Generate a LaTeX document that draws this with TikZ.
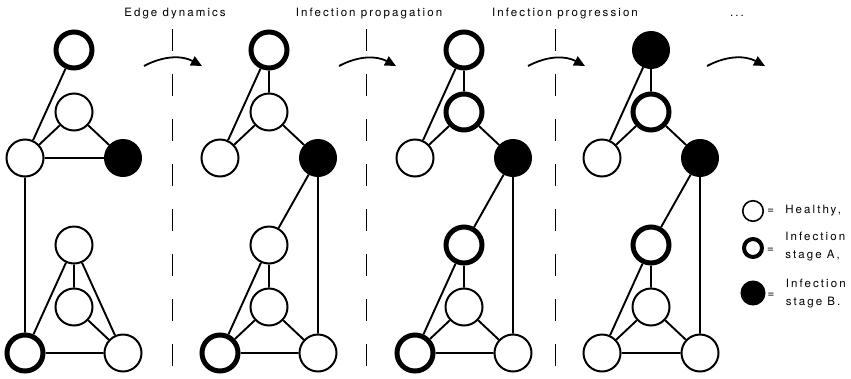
\documentclass[tikz,border=0pt]{standalone}
\usepackage{fontspec}
\setmainfont{TeX Gyre Heros}
\usetikzlibrary{positioning,arrows.meta}

\begin{document}
\begin{tikzpicture}[x=1pt,y=-1pt,
healthy/.style={draw,circle,fill=white,line width=2pt,minimum size=37pt,inner sep=0pt},
stagea/.style={healthy,line width=5pt,minimum size=36pt},
stageb/.style={healthy,fill=black,minimum size=36pt},
link/.style={line width=1.9pt},
divider/.style={line width=1pt,dash pattern=on 22pt off 23pt},
flow/.style={line width=1.8pt,-{Triangle[length=11pt,width=10pt]}},
caption/.style={anchor=base,inner sep=0pt,
    font=\fontsize{11.5}{12}\selectfont\addfontfeatures{LetterSpace=18}},
key/.style={anchor=west,inner sep=0pt,align=left,
    font=\fontsize{11.5}{18}\selectfont\addfontfeatures{LetterSpace=18}}]
\useasboundingbox (0,0) rectangle (851,378);

% step labels
\node (cap1) [caption] at (175,16) {Edge dynamics};
\node (cap2) [caption] at (369,16) {Infection propagation};
\node (cap3) [caption] at (565,16) {Infection progression};
\node (cap4) [caption] at (737,16) {...};

% dividers and arrows between the steps
\foreach \x [count=\i] in {172,366,555} {
  \coordinate (dtop\i) at (\x,29);
  \coordinate (dbot\i) at (\x,372);
  \draw[divider] (dtop\i) -- (dbot\i);
}
\foreach \s/\e [count=\i] in {144/202,339/396,528/585,707/765} {
  \coordinate (fs\i) at (\s,66);
  \coordinate (fe\i) at (\e,66);
  \draw[flow] (fs\i) to[bend left=28] (fe\i);
}

% first network
\begin{scope}[name prefix=a-]
\node (t) [stagea] at (74,50) {};
\node (m) [healthy] at (74,112) {};
\node (l) [healthy] at (25,158) {};
\node (r) [stageb] at (123,158) {};
\node (bt) [healthy] at (74,245) {};
\node (bm) [healthy] at (74,307) {};
\node (bl) [stagea] at (25,353) {};
\node (br) [healthy] at (123,353) {};
\draw[link] (t) -- (l) (m) -- (l) (m) -- (r) (l) -- (r) (l) -- (bl)
  (bt) -- (bl) (bt) -- (bm) (bt) -- (br) (bm) -- (br) (bl) -- (br);
\end{scope}

% after edge dynamics
\begin{scope}[name prefix=b-,xshift=195pt]
\node (t) [stagea] at (74,50) {};
\node (m) [healthy] at (74,112) {};
\node (l) [healthy] at (25,158) {};
\node (r) [stageb] at (123,158) {};
\node (bt) [healthy] at (74,245) {};
\node (bm) [healthy] at (74,307) {};
\node (bl) [stagea] at (25,353) {};
\node (br) [healthy] at (123,353) {};
\draw[link] (t) -- (l) (t) -- (m) (m) -- (l) (m) -- (r) (r) -- (bt) (r) -- (br)
  (bt) -- (bl) (bt) -- (bm) (bm) -- (bl) (bm) -- (br) (bl) -- (br);
\end{scope}

% after infection propagation
\begin{scope}[name prefix=c-,xshift=390pt]
\node (t) [stagea] at (74,50) {};
\node (m) [stagea] at (74,112) {};
\node (l) [healthy] at (25,158) {};
\node (r) [stageb] at (123,158) {};
\node (bt) [stagea] at (74,245) {};
\node (bm) [healthy] at (74,307) {};
\node (bl) [stagea] at (25,353) {};
\node (br) [healthy] at (123,353) {};
\draw[link] (t) -- (l) (t) -- (m) (m) -- (l) (m) -- (r) (r) -- (bt) (r) -- (br)
  (bt) -- (bl) (bt) -- (bm) (bm) -- (bl) (bm) -- (br) (bl) -- (br);
\end{scope}

% after infection progression
\begin{scope}[name prefix=d-,xshift=577pt]
\node (t) [stageb] at (74,50) {};
\node (m) [stagea] at (74,112) {};
\node (l) [healthy] at (25,158) {};
\node (r) [stageb] at (123,158) {};
\node (bt) [stagea] at (74,245) {};
\node (bm) [healthy] at (74,307) {};
\node (bl) [healthy] at (25,353) {};
\node (br) [healthy] at (123,353) {};
\draw[link] (t) -- (l) (t) -- (m) (m) -- (l) (m) -- (r) (r) -- (bt) (r) -- (br)
  (bt) -- (bl) (bt) -- (bm) (bm) -- (bl) (bm) -- (br) (bl) -- (br);
\end{scope}

% legend
\node (kh) [healthy,line width=1.6pt,minimum size=20.5pt] at (753,211) {};
\node (ka) [healthy,line width=4pt,minimum size=18pt] at (753,248) {};
\node (kb) [stageb,minimum size=23pt] at (753,293) {};
\node (khe) [key,right=3pt of kh] {=};
\node (kht) [key,right=11pt of khe] {Healthy,};
\node (kae) [key,right=3pt of ka,yshift=-2pt] {=};
\node (kat) [key,right=11pt of kae,yshift=3pt] {Infection\\stage A,};
\node (kbe) [key,right=2pt of kb,yshift=-2pt] {=};
\node (kbt) [key,right=11pt of kbe,yshift=1pt] {Infection\\stage B.};
\end{tikzpicture}
\end{document}
